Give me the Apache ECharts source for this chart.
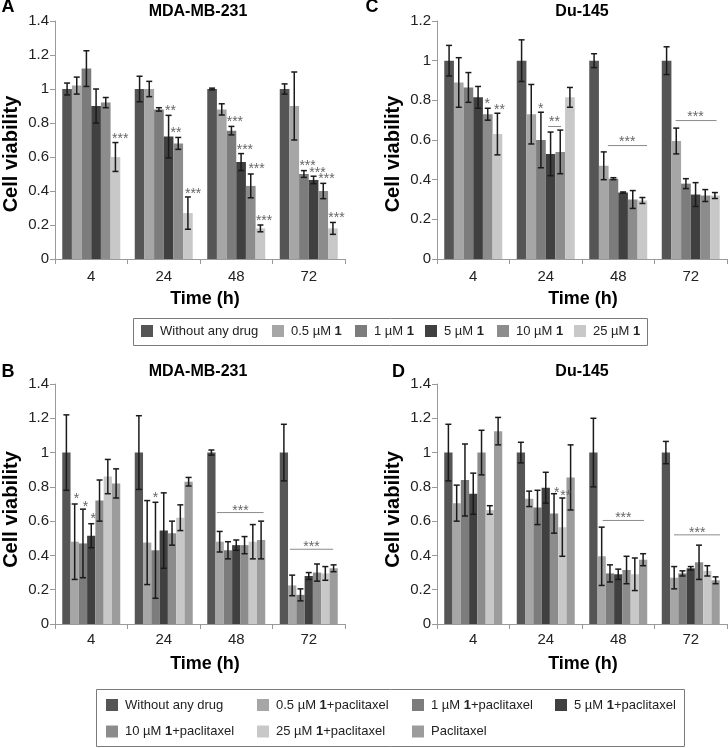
<!DOCTYPE html>
<html><head><meta charset="utf-8">
<script src="https://cdn.jsdelivr.net/npm/echarts@6/dist/echarts.min.js"></script>
<style>html,body{margin:0;padding:0;background:#fff}#c{width:728px;height:748px}</style>
</head><body><div id="c"></div>
<script>
// ---------- data ----------
const categories = ['4', '24', '48', '72'];
const namesTop = ['Without any drug', '0.5 µM 1', '1 µM 1', '5 µM 1', '10 µM 1', '25 µM 1'];
const namesBottom = ['Without any drug', '0.5 µM 1+paclitaxel', '1 µM 1+paclitaxel', '5 µM 1+paclitaxel',
  '10 µM 1+paclitaxel', '25 µM 1+paclitaxel', 'Paclitaxel'];
const colorsTop = ['#555555', '#a6a6a6', '#7c7c7c', '#404040', '#8c8c8c', '#c8c8c8'];
const colorsBottom = ['#555555', '#a6a6a6', '#7c7c7c', '#404040', '#8c8c8c', '#c8c8c8', '#9c9c9c'];

// Panel A (MDA-MB-231, compound 1) : one row per series, values at 4/24/48/72 h
const meanA = [
  [1.0, 1.0, 1.0, 1.0],
  [1.02, 1.0, 0.88, 0.90],
  [1.12, 0.88, 0.755, 0.50],
  [0.90, 0.72, 0.57, 0.465],
  [0.92, 0.68, 0.43, 0.40],
  [0.60, 0.27, 0.18, 0.18]
];
const errA = [
  [0.035, 0.075, 0.005, 0.03],
  [0.05, 0.045, 0.033, 0.20],
  [0.105, 0.01, 0.025, 0.02],
  [0.10, 0.125, 0.05, 0.022],
  [0.03, 0.035, 0.07, 0.045],
  [0.085, 0.095, 0.02, 0.035]
];
// Panel C (Du-145, compound 1)
const meanC = [
  [1.0, 1.0, 1.0, 1.0],
  [0.89, 0.73, 0.47, 0.595],
  [0.865, 0.60, 0.405, 0.38],
  [0.815, 0.53, 0.335, 0.325],
  [0.73, 0.54, 0.30, 0.32],
  [0.63, 0.815, 0.295, 0.32]
];
const errC = [
  [0.077, 0.105, 0.035, 0.07],
  [0.125, 0.15, 0.07, 0.065],
  [0.075, 0.14, 0.005, 0.025],
  [0.055, 0.11, 0.003, 0.06],
  [0.03, 0.11, 0.045, 0.03],
  [0.105, 0.05, 0.015, 0.015]
];
// Panel B (MDA-MB-231, compound 1 + paclitaxel)
const meanB = [
  [1.0, 1.0, 1.0, 1.0],
  [0.48, 0.475, 0.48, 0.225],
  [0.47, 0.43, 0.43, 0.17],
  [0.515, 0.545, 0.46, 0.28],
  [0.72, 0.53, 0.46, 0.30],
  [0.86, 0.62, 0.48, 0.295],
  [0.82, 0.83, 0.49, 0.325]
];
const errB = [
  [0.22, 0.215, 0.015, 0.165],
  [0.22, 0.245, 0.06, 0.06],
  [0.20, 0.28, 0.05, 0.035],
  [0.07, 0.22, 0.03, 0.02],
  [0.12, 0.07, 0.05, 0.05],
  [0.10, 0.075, 0.10, 0.04],
  [0.085, 0.025, 0.11, 0.02]
];
// Panel D (Du-145, compound 1 + paclitaxel)
const meanD = [
  [1.0, 1.0, 1.0, 1.0],
  [0.705, 0.73, 0.395, 0.27],
  [0.84, 0.68, 0.295, 0.295],
  [0.76, 0.795, 0.29, 0.325],
  [1.0, 0.645, 0.315, 0.36],
  [0.665, 0.565, 0.29, 0.31],
  [1.125, 0.855, 0.375, 0.255]
];
const errD = [
  [0.165, 0.06, 0.20, 0.065],
  [0.105, 0.045, 0.17, 0.065],
  [0.21, 0.10, 0.05, 0.015],
  [0.12, 0.09, 0.03, 0.01],
  [0.13, 0.115, 0.08, 0.10],
  [0.025, 0.17, 0.095, 0.03],
  [0.08, 0.19, 0.035, 0.02]
];
// significance marks: [category, bar position, value, text]
const starsA = [[0,5.5,0.72,'***'],[1,3.2,0.887,'**'],[1,3.77,0.756,'**'],[1,5.54,0.40,'***'],
  [2,2.36,0.825,'***'],[2,3.39,0.66,'***'],[2,4.6,0.545,'***'],[2,5.38,0.24,'***'],
  [3,2.38,0.565,'***'],[3,3.41,0.525,'***'],[3,4.33,0.485,'***'],[3,5.37,0.26,'***']];
const starsC = [[0,3.94,0.795,'*'],[0,5.22,0.766,'**'],[1,1.97,0.77,'*'],[1,3.41,0.705,'**'],
  [2,3.43,0.604,'***'],[3,2.99,0.73,'***']];
const starsB = [[0,1.22,0.744,'*'],[0,2.3,0.70,'*'],[0,3.23,0.627,'*'],[1,2.0,0.753,'*'],
  [2,3.51,0.675,'***'],[3,3.33,0.465,'***']];
const starsD = [[1,4.32,0.783,'*'],[1,5.4,0.763,'**'],[2,3.61,0.637,'***'],[3,3.79,0.549,'***']];
// bracket lines: [category, from bar position, to bar position, value]
const linesA = [];
const linesC = [[1,2.75,4.09,0.668],[2,1.43,5.48,0.572],[3,0.94,5.17,0.698]];
const linesB = [[2,0.67,6.3,0.65],[3,0.72,5.95,0.436]];
const linesD = [[2,1.12,6.1,0.604],[3,0.98,6.53,0.52]];
const yMaxA = 1.4, yMaxC = 1.2, yMaxB = 1.4, yMaxD = 1.4;

// ---------- chart ----------
const FONT = '"Liberation Sans", Arial, sans-serif';
const panels = [
  {mean: meanA, err: errA, names: namesTop, colors: colorsTop, stars: starsA, lines: linesA, ymax: yMaxA,
   grid: {left: 55, top: 21, width: 290, height: 238}, labelMargin: 10},
  {mean: meanC, err: errC, names: namesTop, colors: colorsTop, stars: starsC, lines: linesC, ymax: yMaxC,
   grid: {left: 437, top: 21, width: 290, height: 238}, labelMargin: 10},
  {mean: meanB, err: errB, names: namesBottom, colors: colorsBottom, stars: starsB, lines: linesB, ymax: yMaxB,
   grid: {left: 55, top: 384, width: 290, height: 240}, labelMargin: 8},
  {mean: meanD, err: errD, names: namesBottom, colors: colorsBottom, stars: starsD, lines: linesD, ymax: yMaxD,
   grid: {left: 437, top: 384, width: 290, height: 240}, labelMargin: 8}
];

function barX(api, cat, pos, n) {
  const bw = api.size([1, 0])[0];
  const c = api.coord([cat, 0]);
  const w = bw * 0.8 / n;
  return c[0] - bw * 0.4 + (pos + 0.5) * w;
}

const grids = [], xAxes = [], yAxes = [], series = [];
const axisColor = '#9a9a9a';
panels.forEach((p, i) => {
  grids.push(Object.assign({outerBoundsMode: 'none', containLabel: false}, p.grid));
  xAxes.push({
    type: 'category', gridIndex: i, data: categories, boundaryGap: true,
    axisLine: {show: true, lineStyle: {color: axisColor, width: 1}},
    axisTick: {show: true, length: 5, alignWithLabel: false, lineStyle: {color: axisColor}},
    axisLabel: {fontSize: 15, color: '#222', fontFamily: FONT, margin: p.labelMargin},
    splitLine: {show: false}
  });
  yAxes.push({
    type: 'value', gridIndex: i, min: 0, max: p.ymax, interval: 0.2,
    axisLine: {show: true, lineStyle: {color: axisColor, width: 1}},
    axisTick: {show: true, length: 5, lineStyle: {color: axisColor}},
    axisLabel: {fontSize: 15, color: '#222', fontFamily: FONT, margin: 6},
    splitLine: {show: false}
  });
  const n = p.names.length;
  p.names.forEach((name, s) => {
    series.push({
      type: 'bar', name: name, xAxisIndex: i, yAxisIndex: i, data: p.mean[s],
      itemStyle: {color: p.colors[s]}, barGap: '0%', barCategoryGap: '20%',
      animation: false, silent: true
    });
  });
  const errData = [];
  p.mean.forEach((row, s) => row.forEach((v, c) => errData.push([c, s, v, p.err[s][c]])));
  series.push({
    type: 'custom', xAxisIndex: i, yAxisIndex: i, z: 3, animation: false, silent: true,
    encode: {x: 0, y: 2}, data: errData,
    renderItem: (params, api) => {
      const cat = api.value(0), s = api.value(1), v = api.value(2), e = api.value(3);
      const x = barX(api, cat, s, n);
      const yt = api.coord([cat, v + e])[1], yb = api.coord([cat, v - e])[1];
      const st = {stroke: '#1a1a1a', lineWidth: 1.5};
      return {type: 'group', children: [
        {type: 'line', shape: {x1: x, y1: yt, x2: x, y2: yb}, style: st},
        {type: 'line', shape: {x1: x - 3, y1: yt, x2: x + 3, y2: yt}, style: st},
        {type: 'line', shape: {x1: x - 3, y1: yb, x2: x + 3, y2: yb}, style: st}
      ]};
    }
  });
  series.push({
    type: 'custom', xAxisIndex: i, yAxisIndex: i, z: 4, animation: false, silent: true,
    encode: {x: 0, y: 1}, data: p.stars.map(a => [a[0], a[2]]),
    renderItem: (params, api) => {
      const a = p.stars[params.dataIndex];
      const x = barX(api, a[0], a[1], n);
      const y = api.coord([a[0], a[2]])[1] + 3;
      return {type: 'text', x: x, y: y, style: {text: a[3], font: '14px ' + FONT, fill: '#666',
        textAlign: 'center', textVerticalAlign: 'middle', align: 'center', verticalAlign: 'middle'}};
    }
  });
  if (p.lines.length) series.push({
    type: 'custom', xAxisIndex: i, yAxisIndex: i, z: 4, animation: false, silent: true,
    encode: {x: 0, y: 1}, data: p.lines.map(a => [a[0], a[3]]),
    renderItem: (params, api) => {
      const a = p.lines[params.dataIndex];
      const x1 = barX(api, a[0], a[1], n), x2 = barX(api, a[0], a[2], n);
      const y = api.coord([a[0], a[3]])[1];
      return {type: 'line', shape: {x1: x1, y1: y, x2: x2, y2: y}, style: {stroke: '#8a8a8a', lineWidth: 1}};
    }
  });
});

function fmt(name) { return name.replace(/ 1(\+|$)/, ' {b|1}$1'); }
function legendItem(name, left, centerY) {
  return {
    data: [{name: name, icon: 'rect'}], left: left, top: centerY - 7, padding: 0,
    itemWidth: 12, itemHeight: 12, selectedMode: false, formatter: fmt,
    textStyle: {fontSize: 13, color: '#222', fontFamily: FONT, lineHeight: 14, padding: [0, 0, 0, 2],
      rich: {b: {fontSize: 13, fontWeight: 'bold', color: '#222', fontFamily: FONT, lineHeight: 14}}}
  };
}
const legends = [];
const topLegendX = [141, 272, 355, 425, 497, 574];
namesTop.forEach((nm, k) => legends.push(legendItem(nm, topLegendX[k], 331)));
const botLegendPos = [[106, 705], [257, 705], [412, 705], [555, 705], [106, 731.5], [257, 731.5], [412, 731.5]];
namesBottom.forEach((nm, k) => legends.push(legendItem(nm, botLegendPos[k][0], botLegendPos[k][1])));

function txt(text, x, y, font, align, rot) {
  return {type: 'text', x: x, y: y, rotation: rot || 0, silent: true,
    style: {text: text, font: font, fill: '#000', textAlign: align || 'center', align: align || 'center',
      textVerticalAlign: 'middle', verticalAlign: 'middle'}};
}
const graphics = [
  {type: 'rect', shape: {x: 133.5, y: 318.5, width: 514, height: 27}, style: {fill: 'none', stroke: '#7a7a7a', lineWidth: 1}, silent: true},
  {type: 'rect', shape: {x: 96.5, y: 689.5, width: 588, height: 57}, style: {fill: 'none', stroke: '#7a7a7a', lineWidth: 1}, silent: true},
  txt('A', 1.5, 7.5, 'bold 18px ' + FONT, 'left'),
  txt('C', 365.5, 7.5, 'bold 18px ' + FONT, 'left'),
  txt('B', 1.5, 372, 'bold 18px ' + FONT, 'left'),
  txt('D', 392, 372, 'bold 18px ' + FONT, 'left'),
  txt('MDA-MB-231', 198, 11.5, 'bold 16px ' + FONT),
  txt('Du-145', 582, 11.5, 'bold 16px ' + FONT),
  txt('MDA-MB-231', 198, 372, 'bold 16px ' + FONT),
  txt('Du-145', 582, 372, 'bold 16px ' + FONT),
  txt('Cell viability', 11, 154, 'bold 20px ' + FONT, 'center', Math.PI / 2),
  txt('Cell viability', 393, 154, 'bold 20px ' + FONT, 'center', Math.PI / 2),
  txt('Cell viability', 11, 509.5, 'bold 20px ' + FONT, 'center', Math.PI / 2),
  txt('Cell viability', 393, 509.5, 'bold 20px ' + FONT, 'center', Math.PI / 2),
  txt('Time (h)', 205, 299, 'bold 18px ' + FONT),
  txt('Time (h)', 583, 299, 'bold 18px ' + FONT),
  txt('Time (h)', 205, 664, 'bold 18px ' + FONT),
  txt('Time (h)', 583, 664, 'bold 18px ' + FONT)
];

const chart = echarts.init(document.getElementById('c'), null, {renderer: 'canvas'});
chart.setOption({
  backgroundColor: '#ffffff',
  animation: false,
  textStyle: {fontFamily: FONT},
  grid: grids, xAxis: xAxes, yAxis: yAxes, series: series,
  legend: legends, graphic: graphics, tooltip: {show: false}
});
</script></body></html>
